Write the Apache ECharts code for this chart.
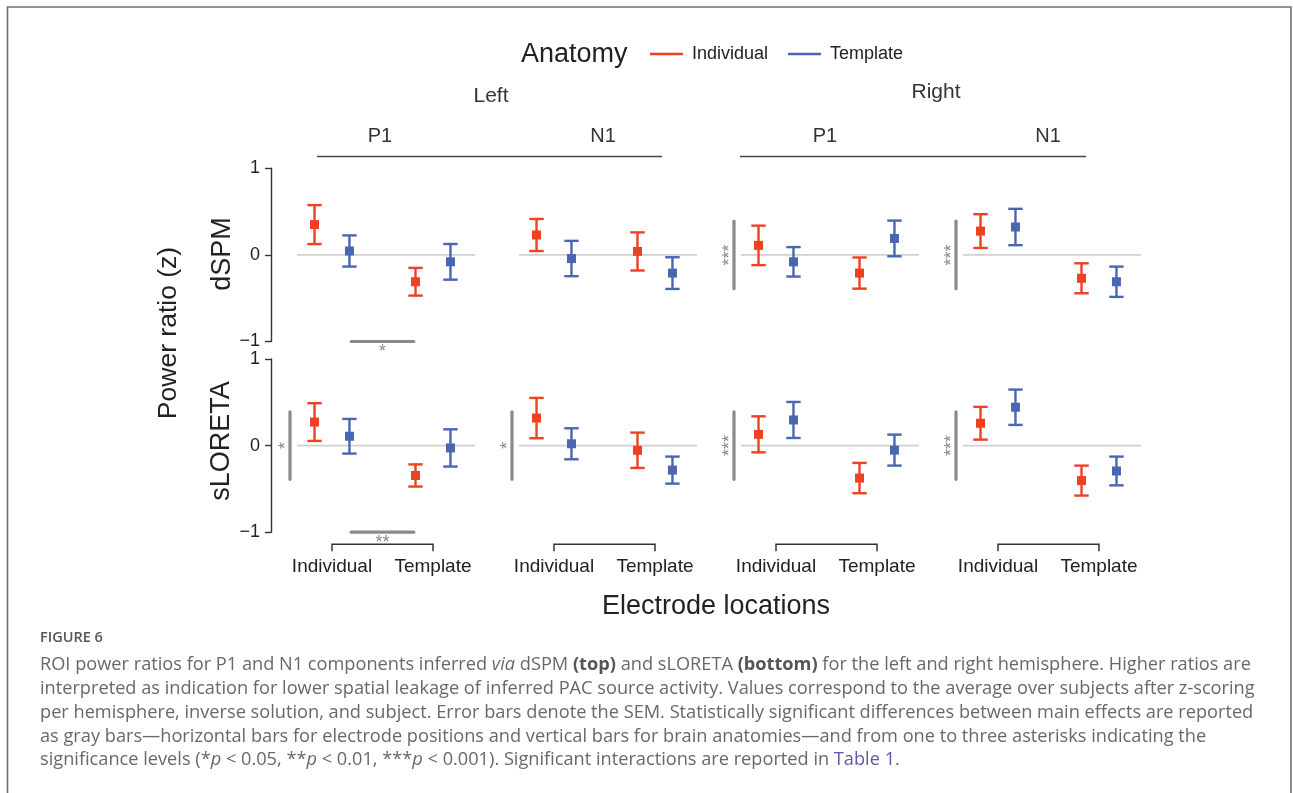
<!DOCTYPE html>
<html>
<head>
<meta charset="utf-8">
<script src="https://cdn.jsdelivr.net/npm/echarts@6/dist/echarts.min.js"></script>
<style>
  html, body { margin: 0; padding: 0; background: #fff; }
  #chart { width: 1293px; height: 793px; }
</style>
</head>
<body>
<div id="chart"></div>
<script>
// ---- data -------------------------------------------------------------
const hemispheres = ['Left', 'Right'];
const components = ['P1', 'N1'];
const locations = ['Individual', 'Template'];   // electrode locations (x axis)
const anatomies = ['Individual', 'Template'];   // brain anatomy (colour)
const methods = ['dSPM', 'sLORETA'];
const yTicks = [-1, 0, 1];

// Panel order: Left P1, Left N1, Right P1, Right N1;
// inside each panel: electrode location Individual, then Template.
const dspmIndividualMean = [0.35, -0.31, 0.23, 0.04, 0.11, -0.21, 0.275, -0.27];
const dspmIndividualSem  = [0.225, 0.16, 0.185, 0.22, 0.228, 0.18, 0.195, 0.173];
const dspmTemplateMean   = [0.045, -0.08, -0.042, -0.21, -0.08, 0.19, 0.322, -0.31];
const dspmTemplateSem    = [0.18, 0.206, 0.204, 0.183, 0.17, 0.206, 0.21, 0.175];

const sloretaIndividualMean = [0.272, -0.345, 0.318, -0.054, 0.13, -0.375, 0.258, -0.404];
const sloretaIndividualSem  = [0.218, 0.128, 0.233, 0.204, 0.208, 0.175, 0.189, 0.173];
const sloretaTemplateMean   = [0.108, -0.027, 0.021, -0.283, 0.296, -0.052, 0.443, -0.293];
const sloretaTemplateSem    = [0.2, 0.215, 0.179, 0.156, 0.208, 0.179, 0.204, 0.166];

// Significant main effects per panel (anatomy: vertical bar, location: horizontal bar)
const dspmAnatomySig     = ['', '', '***', '***'];
const dspmLocationSig    = ['*', '', '', ''];
const sloretaAnatomySig  = ['*', '*', '***', '***'];
const sloretaLocationSig = ['**', '', '', ''];

// extents of the significance bars in data units
const anatomyBarX = 0.584;
const anatomyStarX = 0.54;
const anatomyBarHalfSpan = 0.39;
const locationBarRange = [1.19, 1.81];
const locationBarY = -1;

// ---- layout / style ---------------------------------------------------
const RED = '#EE4123';
const BLUE = '#4A66B2';
const SIG_GRAY = '#8a8a8a';
const AXIS_COL = '#333';
const FONT = 'Liberation Sans, Arial, sans-serif';
const CAP_FONT = 'Open Sans, Noto Sans, sans-serif';
const CAP_SIZE = 18.2;

const panelLeft0 = 271, panelStep = 222, panelWidth = 204;
const rowTop = [168.3, 359], rowHeight = 173.2;
const xMin = 0.396, xMax = 2.416;
const refStart = 0.654;     // start of the zero reference line
const dodge = 0.173;        // horizontal offset between anatomies

const chart = echarts.init(document.getElementById('chart'), null, { renderer: 'canvas' });

function errorBarRenderer(offset, color) {
  return function (params, api) {
    const x = api.value(0) + offset;
    const m = api.value(1), s = api.value(2);
    const top = api.coord([x, m + s]);
    const bot = api.coord([x, m - s]);
    const mid = api.coord([x, m]);
    const cap = 7.2, half = 4.5, lw = 2.4;
    const st = { stroke: color, lineWidth: lw };
    return {
      type: 'group',
      children: [
        { type: 'line', shape: { x1: top[0], y1: top[1], x2: bot[0], y2: bot[1] }, style: st },
        { type: 'line', shape: { x1: top[0] - cap, y1: top[1], x2: top[0] + cap, y2: top[1] }, style: st },
        { type: 'line', shape: { x1: bot[0] - cap, y1: bot[1], x2: bot[0] + cap, y2: bot[1] }, style: st },
        { type: 'rect', shape: { x: mid[0] - half, y: mid[1] - half, width: 2 * half, height: 2 * half }, style: { fill: color } }
      ]
    };
  };
}

function sigRenderer(anatLabel, locLabel) {
  return function (params, api) {
    const children = [];
    if (anatLabel) {
      const a = api.coord([anatomyBarX, anatomyBarHalfSpan]);
      const b = api.coord([anatomyBarX, -anatomyBarHalfSpan]);
      children.push({ type: 'line', shape: { x1: a[0], y1: a[1], x2: b[0], y2: b[1] },
        style: { stroke: SIG_GRAY, lineWidth: 3.2, lineCap: 'round' } });
      const t = api.coord([anatomyStarX, 0]);
      children.push({ type: 'text', x: t[0], y: t[1], rotation: Math.PI / 2,
        style: { text: anatLabel, fill: SIG_GRAY, font: '18px ' + FONT, align: 'center', verticalAlign: 'middle' } });
    }
    if (locLabel) {
      const a = api.coord([locationBarRange[0], locationBarY]);
      const b = api.coord([locationBarRange[1], locationBarY]);
      children.push({ type: 'line', shape: { x1: a[0], y1: a[1], x2: b[0], y2: b[1] },
        style: { stroke: SIG_GRAY, lineWidth: 3.2, lineCap: 'round' } });
      children.push({ type: 'text', x: (a[0] + b[0]) / 2, y: a[1] + 1.5,
        style: { text: locLabel, fill: SIG_GRAY, font: '18px ' + FONT, align: 'center', verticalAlign: 'top' } });
    }
    return { type: 'group', children };
  };
}

function bracketRenderer(params, api) {
  const l = api.coord([1, -1]);
  const r = api.coord([2, -1]);
  const y = l[1] + 12;
  return {
    type: 'polyline',
    shape: { points: [[l[0], y + 7], [l[0], y], [r[0], y], [r[0], y + 7]] },
    style: { stroke: AXIS_COL, lineWidth: 1.5, fill: null }
  };
}

const grids = [], xAxes = [], yAxes = [], series = [];

methods.forEach((method, r) => {
  const indMean = r ? sloretaIndividualMean : dspmIndividualMean;
  const indSem = r ? sloretaIndividualSem : dspmIndividualSem;
  const tmpMean = r ? sloretaTemplateMean : dspmTemplateMean;
  const tmpSem = r ? sloretaTemplateSem : dspmTemplateSem;
  const anatSig = r ? sloretaAnatomySig : dspmAnatomySig;
  const locSig = r ? sloretaLocationSig : dspmLocationSig;

  for (let p = 0; p < 4; p++) {
    const gi = r * 4 + p;
    grids.push({ left: panelLeft0 + panelStep * p, top: rowTop[r], width: panelWidth, height: rowHeight });
    xAxes.push({
      gridIndex: gi, type: 'value', min: xMin, max: xMax,
      axisLine: { show: false }, axisTick: { show: false }, splitLine: { show: false },
      axisLabel: r === 1 ? {
        customValues: [1, 2],
        formatter: v => locations[Math.round(v) - 1],
        margin: 25, fontSize: 19, color: '#222', fontFamily: FONT
      } : { show: false }
    });
    yAxes.push({
      gridIndex: gi, type: 'value', min: yTicks[0], max: yTicks[yTicks.length - 1], interval: 1,
      splitLine: { show: false },
      axisLine: { show: p === 0, lineStyle: { color: AXIS_COL, width: 1.4 } },
      axisTick: { show: p === 0, length: 6, lineStyle: { color: AXIS_COL, width: 1.4 } },
      axisLabel: {
        show: p === 0, margin: 11, fontSize: 18, color: '#222', fontFamily: FONT,
        formatter: v => (v < 0 ? '\u2212' + Math.abs(v) : String(v))
      }
    });

    // zero reference line
    series.push({
      type: 'line', xAxisIndex: gi, yAxisIndex: gi, silent: true, symbol: 'none', z: 1,
      data: [[refStart, 0], [xMax, 0]],
      lineStyle: { color: '#d0d0d0', width: 1.6 }
    });

    // mean ± SEM for each anatomy
    [[anatomies[0], indMean, indSem, -dodge, RED], [anatomies[1], tmpMean, tmpSem, dodge, BLUE]]
      .forEach(([name, mean, sem, off, col]) => {
        series.push({
          type: 'custom', name, xAxisIndex: gi, yAxisIndex: gi, z: 3,
          color: col, itemStyle: { color: col },
          renderItem: errorBarRenderer(off, col),
          data: locations.map((loc, i) => [i + 1, mean[p * 2 + i], sem[p * 2 + i]])
        });
      });

    // significance markers
    if (anatSig[p] || locSig[p]) {
      series.push({
        type: 'custom', xAxisIndex: gi, yAxisIndex: gi, silent: true, clip: false, z: 2,
        renderItem: sigRenderer(anatSig[p], locSig[p]),
        data: [[1, 0]]
      });
    }

    // bracket axis under bottom row
    if (r === 1) {
      series.push({
        type: 'custom', xAxisIndex: gi, yAxisIndex: gi, silent: true, clip: false, z: 2,
        renderItem: bracketRenderer, data: [[1, 0]]
      });
    }
  }
});

// ---- facet strips, titles, caption -------------------------------------
const txt = (x, y, text, size, opts = {}) => Object.assign({
  type: 'text', x, y, silent: true,
  style: Object.assign({ text, font: size + 'px ' + FONT, fill: '#222', align: 'center', verticalAlign: 'middle' }, opts.style || {})
}, opts.el || {});

const graphics = [
  // outer frame
  { type: 'rect', shape: { x: 7.5, y: 7, width: 1283.5, height: 820 }, style: { fill: null, stroke: '#707070', lineWidth: 1.6 }, silent: true },

  // legend title
  txt(521, 55, 'Anatomy', 27, { style: { align: 'left' } }),

  // hemisphere strips
  txt(491, 96, hemispheres[0], 21, { style: { fill: '#333' } }),
  txt(936, 92, hemispheres[1], 21, { style: { fill: '#333' } }),
  txt(380, 136, components[0], 20, { style: { fill: '#333' } }),
  txt(603, 136, components[1], 20, { style: { fill: '#333' } }),
  txt(825, 136, components[0], 20, { style: { fill: '#333' } }),
  txt(1048, 136, components[1], 20, { style: { fill: '#333' } }),
  { type: 'line', shape: { x1: 317, y1: 156.5, x2: 662, y2: 156.5 }, style: { stroke: '#444', lineWidth: 1.6 }, silent: true },
  { type: 'line', shape: { x1: 740, y1: 156.5, x2: 1086, y2: 156.5 }, style: { stroke: '#444', lineWidth: 1.6 }, silent: true },

  // method row labels and axis titles
  txt(223, 254, methods[0], 27, { el: { rotation: Math.PI / 2 } }),
  txt(222, 441, methods[1], 27, { el: { rotation: Math.PI / 2 } }),
  txt(169, 333, 'Power ratio (z)', 26.5, { el: { rotation: Math.PI / 2 } }),
  txt(716, 607, 'Electrode locations', 27),
];

// caption
const capStyle = { font: CAP_SIZE + 'px ' + CAP_FONT, fill: '#686868', align: 'left', verticalAlign: 'middle' };
const capRich = {
  i: { font: 'italic ' + CAP_SIZE + 'px ' + CAP_FONT, fill: '#686868' },
  b: { font: 'bold ' + CAP_SIZE + 'px ' + CAP_FONT, fill: '#555' },
  l: { font: CAP_SIZE + 'px ' + CAP_FONT, fill: '#5b59a8' }
};
graphics.push({ type: 'text', x: 40, y: 638, silent: true,
  style: { text: 'FIGURE 6', font: '600 14.5px ' + CAP_FONT, fill: '#555', verticalAlign: 'middle' } });
const captionLines = [
  'ROI power ratios for P1 and N1 components inferred {i|via} dSPM {b|(top)} and sLORETA {b|(bottom)} for the left and right hemisphere. Higher ratios are',
  'interpreted as indication for lower spatial leakage of inferred PAC source activity. Values correspond to the average over subjects after z-scoring',
  'per hemisphere, inverse solution, and subject. Error bars denote the SEM. Statistically significant differences between main effects are reported',
  'as gray bars\u2014horizontal bars for electrode positions and vertical bars for brain anatomies\u2014and from one to three asterisks indicating the',
  'significance levels (*{i|p} < 0.05, **{i|p} < 0.01, ***{i|p} < 0.001). Significant interactions are reported in {l|Table 1}.'
];
captionLines.forEach((line, i) => {
  graphics.push({ type: 'text', x: 40, y: 665 + i * 23.8, silent: true,
    style: Object.assign({ text: line, rich: capRich }, capStyle) });
});

chart.setOption({
  backgroundColor: '#fff',
  animation: false,
  textStyle: { fontFamily: FONT },
  legend: {
    data: anatomies,
    left: 645, top: 40,
    icon: 'rect', itemWidth: 33, itemHeight: 2.6, itemGap: 20,
    textStyle: { fontSize: 18, color: '#222', fontFamily: FONT, padding: [0, 0, 0, 4] }
  },
  grid: grids,
  xAxis: xAxes,
  yAxis: yAxes,
  series,
  graphic: graphics
});
</script>
</body>
</html>
